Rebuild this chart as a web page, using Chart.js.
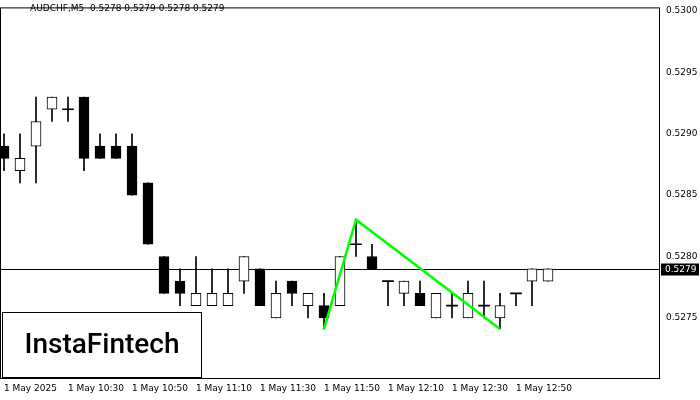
<!DOCTYPE html>
<html><head><meta charset="utf-8">
<script src="https://cdn.jsdelivr.net/npm/chart.js@4.4.0/dist/chart.umd.min.js"></script>
<style>html,body{margin:0;padding:0;background:#fff;overflow:hidden}canvas{display:block}</style>
</head><body><canvas id="c" width="700" height="400"></canvas>
<script>
const timeLabels = ["1 May 2025","1 May 10:30","1 May 10:50","1 May 11:10","1 May 11:30","1 May 11:50","1 May 12:10","1 May 12:30","1 May 12:50"];
const opens  = [0.5289,0.5287,0.5289,0.5292,0.5292,0.5293,0.5289,0.5289,0.5289,0.5286,0.5280,0.5278,0.5276,0.5276,0.5276,0.5278,0.5279,0.5275,0.5278,0.5276,0.5276,0.5276,0.5281,0.5280,0.5278,0.5277,0.5277,0.5275,0.5276,0.5275,0.5276,0.5275,0.5277,0.5278,0.5278];
const highs  = [0.5290,0.5290,0.5293,0.5293,0.5293,0.5293,0.5290,0.5290,0.5290,0.5286,0.5280,0.5279,0.5280,0.5279,0.5279,0.5280,0.5279,0.5278,0.5278,0.5277,0.5277,0.5280,0.5283,0.5281,0.5278,0.5278,0.5278,0.5277,0.5277,0.5278,0.5278,0.5277,0.5277,0.5279,0.5279];
const lows   = [0.5287,0.5286,0.5286,0.5291,0.5291,0.5287,0.5288,0.5288,0.5285,0.5281,0.5277,0.5276,0.5276,0.5276,0.5276,0.5277,0.5276,0.5275,0.5276,0.5275,0.52741,0.5276,0.5280,0.5279,0.5276,0.5276,0.5276,0.5275,0.5275,0.5275,0.5275,0.52741,0.5276,0.5276,0.5278];
const closes = [0.5288,0.5288,0.5291,0.5293,0.5292,0.5288,0.5288,0.5288,0.5285,0.5281,0.5277,0.5277,0.5277,0.5277,0.5277,0.5280,0.5276,0.5277,0.5277,0.5277,0.5275,0.5280,0.5281,0.5279,0.5278,0.5278,0.5276,0.5277,0.5276,0.5277,0.5276,0.5276,0.5277,0.5279,0.5279];
const patternX = [20,22,31];
const patternY = [0.52741,0.5283,0.52741];
const lastPrice = 0.5279;
const yTicks = [0.5275,0.5280,0.5285,0.5290,0.5295,0.5300];
const xTickIdx = [0,4,8,12,16,20,24,28,32];

const isDoji = opens.map((o,i)=>Math.abs(o-closes[i])<1e-7);
const wicks = opens.map((o,i)=>({x:i,y:[lows[i],highs[i]]}));
const bodies = opens.map((o,i)=>({x:i,y:[Math.min(o,closes[i]),Math.max(o,closes[i])]}));
const dojis = opens.map((o,i)=>isDoji[i]?{x:i,y:[o-0.000004,o+0.000004]}:null).filter(Boolean);
const bodyColors = opens.map((o,i)=>closes[i]<o?'#000':'#fff');

const deco = {id:'deco',
 beforeDatasetsDraw(ch){const c=ch.ctx,a=ch.chartArea,y=ch.scales.y;
  const py=Math.round(y.getPixelForValue(lastPrice))+0.5;
  c.save();c.strokeStyle='#000';c.lineWidth=1;c.beginPath();c.moveTo(a.left,py);c.lineTo(a.right,py);c.stroke();c.restore();},
 afterDraw(ch){const c=ch.ctx,a=ch.chartArea,y=ch.scales.y;
  c.save();
  c.strokeStyle='#000';c.lineWidth=1;
  c.strokeRect(a.left+0.5,a.top+0.5,a.right-a.left-1,a.bottom-a.top);
  const py=Math.round(y.getPixelForValue(lastPrice))+0.5;
  c.fillStyle='#000';c.fillRect(a.right+1,py-6,38,12);
  c.fillStyle='#fff';c.font='9px "DejaVu Sans"';c.textBaseline='middle';c.textAlign='left';
  c.fillText(lastPrice.toFixed(4),a.right+5,py);
  c.fillStyle='#000';c.textBaseline='top';
  c.fillText('AUDCHF,M5  0.5278 0.5279 0.5278 0.5279',30,4);
  c.fillStyle='#fff';c.fillRect(2,312,199,66);c.strokeRect(2.5,312.5,199,65);
  c.fillStyle='#000';c.font='500 28px "Roboto"';c.textBaseline='middle';c.textAlign='center';
  c.fillText('InstaFintech',102,346);
  c.restore();
 }
};

new Chart(document.getElementById('c'),{
 type:'bar',
 data:{datasets:[
  {type:'line',data:patternX.map((x,i)=>({x,y:patternY[i]})),borderColor:'#00ff00',borderWidth:2.5,pointRadius:0,order:0},
  {data:dojis,backgroundColor:'#000',borderWidth:0,barThickness:11,grouped:false,order:1},
  {data:bodies,backgroundColor:bodyColors,borderColor:'#000',borderWidth:1,borderSkipped:false,barThickness:10,grouped:false,order:2},
  {data:wicks,backgroundColor:'#000',borderWidth:0,barThickness:1,grouped:false,order:3}
 ]},
 options:{responsive:false,animation:false,devicePixelRatio:1,
  layout:{padding:0},
  plugins:{legend:{display:false},tooltip:{enabled:false}},
  scales:{
   x:{type:'linear',min:-0.25,max:41,offset:false,
    afterBuildTicks(s){s.ticks=xTickIdx.map(v=>({value:v}));},
    afterFit(s){s.height=22;},
    grid:{display:false,drawTicks:true,tickLength:4,color:'#000'},border:{display:false},
    ticks:{autoSkip:false,maxRotation:0,align:'start',padding:1,color:'#000',font:{size:9,family:'DejaVu Sans'},
     callback:(v)=>timeLabels[xTickIdx.indexOf(v)]}},
   y:{position:'right',min:0.52701,max:0.53003,
    afterBuildTicks(s){s.ticks=yTicks.map(v=>({value:v}));},
    afterFit(s){s.width=40;},
    grid:{display:false,drawTicks:true,tickLength:4,color:'#000'},border:{display:false},
    ticks:{padding:2,color:'#000',font:{size:9,family:'DejaVu Sans'},callback:v=>v.toFixed(4)}}
  }},
 plugins:[deco]
});
</script>
</body></html>
